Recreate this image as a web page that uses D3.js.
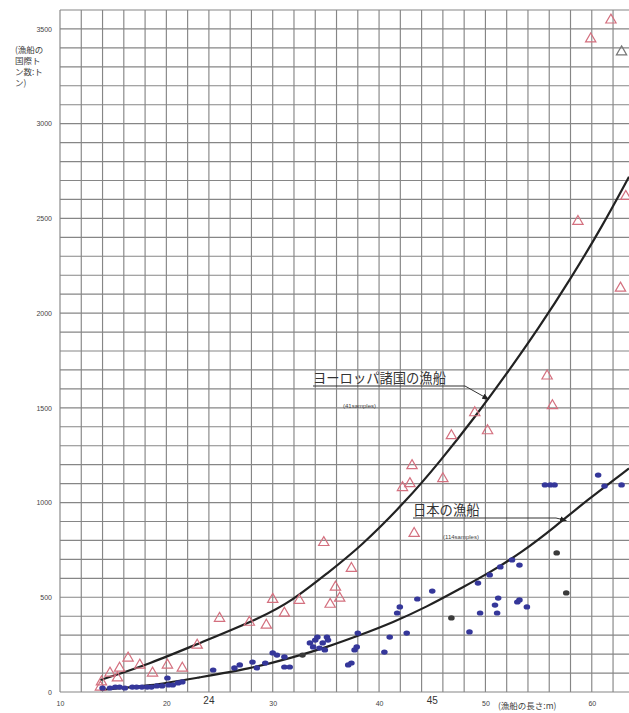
<!DOCTYPE html>
<html>
<head>
<meta charset="utf-8">
<script src="https://cdn.jsdelivr.net/npm/d3@7"></script>
<style>
body{margin:0;background:#fff;}
text{font-family:"Liberation Sans",Arial,sans-serif;}
.jp{font-family:"Noto Sans CJK JP",sans-serif;}
</style>
</head>
<body>
<svg id="chart" width="629" height="713"></svg>
<script>
// European fishing vessels (length m, gross tonnage)
var euroLength = [13.8,13.9,14.7,15.4,15.6,16.4,17.5,18.7,20.1,21.5,22.9,25.0,27.8,29.4,30.0,31.1,32.5,34.8,35.4,35.9,36.3,37.4,
                  43.3,42.2,42.9,43.1,46.0,46.8,49.0,50.2,55.8,56.3,58.7,63.2,62.7,59.9,61.8,62.8];
var euroTon    = [26,53,100,74,126,179,142,100,142,126,247,389,368,353,489,416,484,789,463,553,495,652,
                  837,1079,1100,1195,1126,1353,1474,1379,1668,1511,2484,2616,2132,3447,3547,3379];

// Japanese fishing vessels
var japanLength = [14.0,14.7,15.2,15.6,16.1,16.8,17.2,17.7,18.2,18.6,19.1,19.6,20.1,20.2,20.6,21.1,21.5,
                   24.4,26.4,26.9,28.1,28.5,29.3,30.0,30.4,31.1,31.1,31.6,33.5,33.8,34.0,34.2,34.4,34.7,35.1,35.2,34.9,
                   37.1,37.4,37.7,37.9,38.0,40.5,41.0,41.7,41.95,42.6,43.6,45.0,48.5,49.3,49.5,50.4,50.9,51.1,51.2,51.4,
                   52.5,53.0,53.2,53.2,53.9,55.6,56.1,56.5,60.6,61.2,62.8];
var japanTon    = [21,21,26,26,21,26,26,26,26,26,32,32,74,37,37,48,53,
                   116,127,143,158,127,153,206,195,185,132,132,259,238,274,290,232,259,290,274,222,
                   143,153,222,238,311,211,290,417,449,311,491,533,317,575,417,618,459,417,496,660,
                   697,475,486,670,449,1093,1093,1093,1145,1087,1093];
// darker marks among the Japanese vessels
var japanDarkLength = [32.8,46.8,56.7,57.6];
var japanDarkTon    = [195,391,734,523];

// fitted curves
var euroCurveLength = [13.8,18.5,23.1,28.8,31.9,35.1,38.2,42.6,45.7,49.0,52.0,55.0,58.0,61.0,63.5];
var euroCurveTon    = [63,150,258,389,484,626,763,1011,1215,1450,1680,1920,2180,2460,2720];
var japanCurveLength = [13.8,18.5,23.1,27.8,31.9,35.1,38.2,41.3,44.5,47.6,50.4,53.5,56.5,59.5,63.5];
var japanCurveTon    = [11,32,77,122,182,237,300,367,450,545,630,740,870,1010,1180];

var xTicks = [10,20,30,40,50,60];
var yTicks = [0,500,1000,1500,2000,2500,3000,3500];
var noteTicks = [24,45];

var svg = d3.select("#chart");
svg.append("rect").attr("width",629).attr("height",713).attr("fill","#fff");

var x = d3.scaleLinear().domain([10,63.5]).range([60,629]),
    y = d3.scaleLinear().domain([0,3600]).range([692,10]);

// grid
var grid = svg.append("g").attr("stroke","#868686").attr("stroke-width",1.15);
grid.selectAll(".v")
  .data(d3.range(10,63,2))
  .enter().append("line")
    .attr("x1",function(d){ return x(d); })
    .attr("x2",function(d){ return x(d); })
    .attr("y1",y(0)).attr("y2",y(3600));
grid.selectAll(".h")
  .data(d3.range(0,3601,100))
  .enter().append("line")
    .attr("x1",x(10)).attr("x2",629)
    .attr("y1",function(d){ return y(d); })
    .attr("y2",function(d){ return y(d); });

// axes
var yAxis = d3.axisLeft(y).tickValues(yTicks).tickFormat(d3.format("d")).tickSize(0).tickPadding(8);
var gy = svg.append("g").attr("transform","translate(" + x(10) + ",0)").call(yAxis);
gy.select(".domain").remove();
gy.selectAll("text").style("font-size","7px").attr("fill","#444");

var xAxis = d3.axisBottom(x).tickValues(xTicks).tickFormat(d3.format("d")).tickSize(0).tickPadding(9);
var gx = svg.append("g").attr("transform","translate(0," + y(0) + ")").call(xAxis);
gx.select(".domain").remove();
gx.selectAll("text").style("font-size","7px").attr("fill","#444");

svg.selectAll(".note")
  .data(noteTicks)
  .enter().append("text")
    .attr("x",function(d){ return x(d); })
    .attr("y",704)
    .attr("text-anchor","middle")
    .style("font-size","10px")
    .attr("fill","#333")
    .text(function(d){ return d; });

// axis titles
svg.append("text").attr("class","jp")
  .attr("x",15).attr("y",53)
  .style("font-size","8.5px").attr("fill","#444")
  .selectAll("tspan")
  .data(["(漁船の","国際ト","ン数:ト","ン)"])
  .enter().append("tspan")
    .attr("x",15)
    .attr("dy",function(d,i){ return i ? 11 : 0; })
    .text(function(d){ return d; });

svg.append("text").attr("class","jp")
  .attr("x",498).attr("y",709)
  .style("font-size","8.5px").attr("fill","#444")
  .text("(漁船の長さ:m)");

// curves
var line = d3.line()
  .x(function(d){ return x(d[0]); })
  .y(function(d){ return y(d[1]); })
  .curve(d3.curveBasis);

svg.append("path")
  .datum(d3.zip(euroCurveLength,euroCurveTon))
  .attr("d",line).attr("fill","none").attr("stroke","#222").attr("stroke-width",2.2);
svg.append("path")
  .datum(d3.zip(japanCurveLength,japanCurveTon))
  .attr("d",line).attr("fill","none").attr("stroke","#222").attr("stroke-width",2.2);

// european triangles
var tri = d3.symbol().type(d3.symbolTriangle).size(46);
svg.selectAll(".euro")
  .data(d3.zip(euroLength,euroTon))
  .enter().append("path")
    .attr("class","euro")
    .attr("d",tri)
    .attr("transform",function(d){ return "translate(" + x(d[0]) + "," + y(d[1]) + ")"; })
    .attr("fill","none")
    .attr("stroke",function(d,i){ return i == euroLength.length-1 ? "#777" : "#d4707f"; })
    .attr("stroke-width",1.2);

// japanese dots
svg.selectAll(".jpn")
  .data(d3.zip(japanLength,japanTon))
  .enter().append("ellipse")
    .attr("class","jpn")
    .attr("cx",function(d){ return x(d[0]); })
    .attr("cy",function(d){ return y(d[1]); })
    .attr("rx",3.3).attr("ry",2.6)
    .attr("fill","#35379a");
svg.selectAll(".jpnDark")
  .data(d3.zip(japanDarkLength,japanDarkTon))
  .enter().append("ellipse")
    .attr("class","jpnDark")
    .attr("cx",function(d){ return x(d[0]); })
    .attr("cy",function(d){ return y(d[1]); })
    .attr("rx",3.3).attr("ry",2.6)
    .attr("fill","#3a3a3a");

// annotations
svg.append("defs").append("marker")
    .attr("id","arrow")
    .attr("viewBox","0 0 10 10")
    .attr("refX",9).attr("refY",5)
    .attr("markerWidth",7).attr("markerHeight",7)
    .attr("orient","auto")
  .append("path").attr("d","M0,1L10,5L0,9z").attr("fill","#222");

svg.append("text").attr("class","jp")
  .attr("x",313).attr("y",383)
  .style("font-size","13.3px").attr("fill","#333")
  .text("ヨーロッパ諸国の漁船");
svg.append("path")
  .attr("d","M313,386H465L" + x(50.3) + "," + y(1545))
  .attr("fill","none").attr("stroke","#333").attr("stroke-width",1)
  .attr("marker-end","url(#arrow)");
svg.append("text")
  .attr("x",343).attr("y",408)
  .style("font-size","6px").attr("fill","#444")
  .text("(41samples)");

svg.append("text").attr("class","jp")
  .attr("x",413).attr("y",515)
  .style("font-size","13.3px").attr("fill","#333")
  .text("日本の漁船");
svg.append("path")
  .attr("d","M413,518H556L" + x(57.6) + "," + y(905))
  .attr("fill","none").attr("stroke","#333").attr("stroke-width",1)
  .attr("marker-end","url(#arrow)");
svg.append("text")
  .attr("x",443).attr("y",539)
  .style("font-size","6px").attr("fill","#444")
  .text("(114samples)");
</script>
</body>
</html>
